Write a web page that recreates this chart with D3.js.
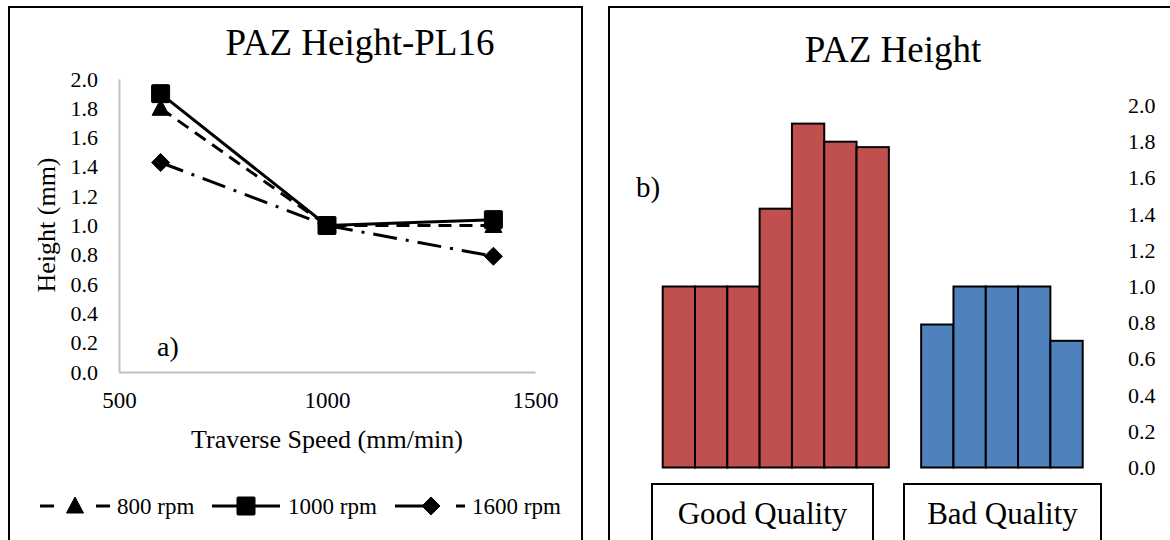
<!DOCTYPE html>
<html>
<head>
<meta charset="utf-8">
<script src="https://cdn.jsdelivr.net/npm/d3@7"></script>
<style>
  html, body { margin: 0; padding: 0; background: #fff; }
  svg { display: block; }
</style>
</head>
<body>
<svg id="chart" width="1170" height="540"></svg>
<script>
// ---- Panel a) : PAZ height vs traverse speed ----
const speeds = [600, 1000, 1400];
const rpm800 = [1.80, 1.00, 1.00];
const rpm1000 = [1.90, 1.00, 1.04];
const rpm1600 = [1.43, 1.00, 0.79];
const seriesNames = ["800 rpm", "1000 rpm", "1600 rpm"];
const xTicks = [500, 1000, 1500];
const yTicks = [0, 0.2, 0.4, 0.6, 0.8, 1.0, 1.2, 1.4, 1.6, 1.8, 2.0];

// ---- Panel b) : PAZ height by weld quality ----
const goodQuality = [1.00, 1.00, 1.00, 1.43, 1.90, 1.80, 1.77];
const badQuality = [0.79, 1.00, 1.00, 1.00, 0.70];
const groupNames = ["Good Quality", "Bad Quality"];

const SERIF = '"Liberation Serif", "Times New Roman", Times, serif';
const svg = d3.select("#chart").style("font-family", SERIF);
const fmt = d3.format(".1f");

function label(sel, size) {
  return sel.style("font-family", SERIF).style("font-size", size + "px").attr("fill", "#000");
}

// Panel frames
svg.append("rect").attr("x", 9).attr("y", 7).attr("width", 573).attr("height", 560)
  .attr("fill", "none").attr("stroke", "#000").attr("stroke-width", 2);
svg.append("rect").attr("x", 609).attr("y", 7).attr("width", 600).attr("height", 560)
  .attr("fill", "none").attr("stroke", "#000").attr("stroke-width", 2);

// ===== Line chart =====
const x = d3.scaleLinear().domain([500, 1500]).range([119, 535]);
const y = d3.scaleLinear().domain([0, 2]).range([372, 79]);

label(svg.append("text").attr("x", 360).attr("y", 55).attr("text-anchor", "middle"), 37)
  .text("PAZ Height-PL16");

// axes (light grey lines, no tick marks)
const gx = svg.append("g").attr("transform", `translate(0,${y(0)})`)
  .call(d3.axisBottom(x).tickValues(xTicks).tickSize(0).tickPadding(20).tickFormat(d3.format("d")));
gx.attr("font-family", null).attr("font-size", null);
gx.select(".domain").attr("stroke", "#bfbfbf").attr("stroke-width", 2);
label(gx.selectAll("text"), 23);

const gy = svg.append("g").attr("transform", `translate(${x(500)},0)`)
  .call(d3.axisLeft(y).tickValues(yTicks).tickSize(0).tickPadding(21).tickFormat(fmt));
gy.attr("font-family", null).attr("font-size", null);
gy.select(".domain").attr("stroke", "#bfbfbf").attr("stroke-width", 2);
label(gy.selectAll("text"), 22);

label(svg.append("text").attr("x", 327).attr("y", 448).attr("text-anchor", "middle"), 26)
  .text("Traverse Speed (mm/min)");
label(svg.append("text").attr("transform", "translate(55,225) rotate(-90)").attr("text-anchor", "middle"), 26)
  .text("Height (mm)");

label(svg.append("text").attr("x", 157).attr("y", 356), 28).text("a)");

const styles = [
  { data: rpm800, dash: "13,8", marker: "triangle" },
  { data: rpm1000, dash: null, marker: "square" },
  { data: rpm1600, dash: "24,9,3,9", marker: "diamond" }
];

function markerPath(type) {
  if (type === "triangle") return "M0,-9 L8.5,7 L-8.5,7 Z";
  if (type === "diamond") return "M0,-9 L9,0 L0,9 L-9,0 Z";
  return "M-8,-9 L8,-9 Q9,-9 9,-8 L9,8 Q9,9 8,9 L-8,9 Q-9,9 -9,8 L-9,-8 Q-9,-9 -8,-9 Z";
}

const line = d3.line().x(d => x(d[0])).y(d => y(d[1]));
styles.forEach(s => {
  const pts = speeds.map((v, i) => [v, s.data[i]]);
  svg.append("path").attr("d", line(pts)).attr("fill", "none").attr("stroke", "#000")
    .attr("stroke-width", 3).attr("stroke-dasharray", s.dash);
});
styles.forEach(s => {
  speeds.forEach((v, i) => {
    svg.append("path").attr("d", markerPath(s.marker))
      .attr("transform", `translate(${x(v)},${y(s.data[i])})`)
      .attr("fill", "#000").attr("stroke", "#000").attr("stroke-width", 1)
      .attr("stroke-linejoin", "round");
  });
});

// Legend
const legendItems = [
  { x0: 40, x1: 110, mx: 75, dash: "14,42", tx: 117 },
  { x0: 212, x1: 280, mx: 246, dash: null, tx: 288 },
  { x0: 395, x1: 465, mx: 431, dash: "30,31", tx: 472 }
];
legendItems.forEach((it, i) => {
  svg.append("line").attr("x1", it.x0).attr("x2", it.x1).attr("y1", 506).attr("y2", 506)
    .attr("stroke", "#000").attr("stroke-width", 3).attr("stroke-dasharray", it.dash);
  svg.append("path").attr("d", markerPath(styles[i].marker))
    .attr("transform", `translate(${it.mx},506)`).attr("fill", "#000")
    .attr("stroke", "#000").attr("stroke-width", 1).attr("stroke-linejoin", "round");
  label(svg.append("text").attr("x", it.tx).attr("y", 514), 23).text(seriesNames[i]);
});

// ===== Bar chart =====
const barData = [
  ...goodQuality.map((v, i) => ({ key: "G" + (i + 1), value: v, group: 0 })),
  { key: "gap", value: null, group: -1 },
  ...badQuality.map((v, i) => ({ key: "B" + (i + 1), value: v, group: 1 }))
];
const xb = d3.scaleBand().domain(barData.map(d => d.key)).range([662.7, 1082.7]).padding(0);
const yb = d3.scaleLinear().domain([0, 2]).range([467.5, 105.5]);
const colors = ["#C0504D", "#4F81BD"];

label(svg.append("text").attr("x", 893).attr("y", 62).attr("text-anchor", "middle"), 37)
  .text("PAZ Height");

svg.append("g").selectAll("rect").data(barData.filter(d => d.value !== null)).join("rect")
  .attr("x", d => xb(d.key)).attr("y", d => yb(d.value))
  .attr("width", xb.bandwidth()).attr("height", d => yb(0) - yb(d.value))
  .attr("fill", d => colors[d.group]).attr("stroke", "#000").attr("stroke-width", 2);

const gyb = svg.append("g").attr("transform", "translate(1128,0)")
  .call(d3.axisRight(yb).tickValues(yTicks).tickSize(0).tickPadding(0).tickFormat(fmt));
gyb.attr("font-family", null).attr("font-size", null);
gyb.select(".domain").remove();
label(gyb.selectAll("text"), 22);

label(svg.append("text").attr("x", 636).attr("y", 197), 29).text("b)");

// category boxes under the bars
const boxes = [
  { x0: 652, x1: 873 },
  { x0: 904, x1: 1101 }
];
boxes.forEach((b, i) => {
  svg.append("rect").attr("x", b.x0).attr("y", 484).attr("width", b.x1 - b.x0).attr("height", 80)
    .attr("fill", "#fff").attr("stroke", "#000").attr("stroke-width", 2);
  label(svg.append("text").attr("x", (b.x0 + b.x1) / 2).attr("y", 524).attr("text-anchor", "middle"), 31)
    .text(groupNames[i]);
});
</script>
</body>
</html>
